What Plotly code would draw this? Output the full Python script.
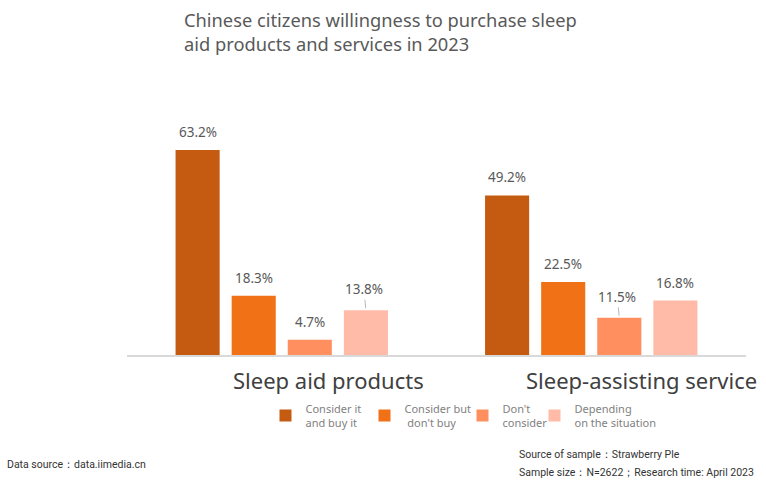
import plotly.graph_objects as go

categories = ["Sleep aid products", "Sleep-assisting service"]
series_names = ["Consider it<br>and buy it", "Consider but<br> don't buy", "Don't<br>consider", "Depending<br>on the situation"]
series_values = [
    [63.2, 49.2],
    [18.3, 22.5],
    [4.7, 11.5],
    [13.8, 16.8],
]
series_colors = ["#C55A11", "#F07116", "#FF8F5E", "#FFBBA8"]
leader_lines = [[False, False], [False, False], [False, True], [True, False]]
legend_ids = ["legend", "legend2", "legend3", "legend4"]
legend_symbol_px = [285, 384, 482, 554]
category_shift = [47, 50]

fig = go.Figure()
for name, vals, col, lid in zip(series_names, series_values, series_colors, legend_ids):
    fig.add_trace(go.Bar(x=categories, y=vals, name=name, legend=lid,
                         marker=dict(color=col, line=dict(width=0)), hoverinfo="skip"))

L, R, T, B = 127, 20, 127.5, 127
W = 766 - L - R
H = 482 - T - B

n = len(series_values)
slot = (1 - 0.275) / n
annotations = []
lab_font = dict(family="Noto Sans", size=13.5, color="#595959")
for i, vals in enumerate(series_values):
    off = -((1 - 0.275) / 2) + slot * (i + 0.5)
    for j, v in enumerate(vals):
        if leader_lines[i][j]:
            annotations.append(dict(x=j + off, y=v, xref="x", yref="y", text=f"{v}%",
                                    showarrow=True, arrowhead=0, arrowwidth=0.8, arrowcolor="#a6a6a6",
                                    ax=-2, ay=-21, standoff=2, font=lab_font))
        else:
            annotations.append(dict(x=j + off, y=v, xref="x", yref="y", text=f"{v}%",
                                    showarrow=False, yshift=18, font=lab_font))

for j, c in enumerate(categories):
    annotations.append(dict(x=j, y=0, xref="x", yref="y", text=c, showarrow=False,
                            xshift=category_shift[j], yshift=-25,
                            font=dict(family="Noto Sans", size=22, color="#404040")))

foot_font = dict(family="Roboto", size=10.5, color="#333333")
annotations += [
    dict(xref="paper", yref="paper", x=(182 - L) / W, y=1 + (T - 4) / H,
         xanchor="left", yanchor="top", align="left", showarrow=False,
         text="Chinese citizens willingness to purchase sleep<br>aid products and services in 2023",
         font=dict(family="Noto Sans", size=18.3, color="#595959")),
    dict(xref="paper", yref="paper", x=(5 - L) / W, y=-(465 - 355) / H,
         xanchor="left", yanchor="middle", showarrow=False,
         text="Data source：data.iimedia.cn", font=foot_font),
    dict(xref="paper", yref="paper", x=(517 - L) / W, y=-(455 - 355) / H,
         xanchor="left", yanchor="middle", showarrow=False,
         text="Source of sample：Strawberry Ple", font=foot_font),
    dict(xref="paper", yref="paper", x=(517 - L) / W, y=-(473 - 355) / H,
         xanchor="left", yanchor="middle", showarrow=False,
         text="Sample size：N=2622；Research time: April 2023", font=foot_font),
]

layout_legends = {}
for lid, px in zip(legend_ids, legend_symbol_px):
    layout_legends[lid] = dict(orientation="h", x=(px - 19.5 - L) / W, xanchor="left",
                               y=-0.175, yanchor="top",
                               font=dict(family="Noto Sans", size=11, color="#7f7f7f"),
                               itemwidth=30, itemclick=False, itemdoubleclick=False,
                               bgcolor="rgba(0,0,0,0)")

fig.update_layout(
    width=766, height=482,
    margin=dict(l=L, r=R, t=T, b=B),
    paper_bgcolor="white", plot_bgcolor="white",
    barmode="group", bargap=0.275, bargroupgap=0.214,
    showlegend=True,
    xaxis=dict(range=[-0.5, 1.5], showticklabels=False, showgrid=False, zeroline=False,
               showline=True, linecolor="#d9d9d9", linewidth=1.5, ticks=""),
    yaxis=dict(range=[0, 70], visible=False),
    font=dict(family="Noto Sans"),
    annotations=annotations,
    **layout_legends,
)

fig.write_html("out.html")
